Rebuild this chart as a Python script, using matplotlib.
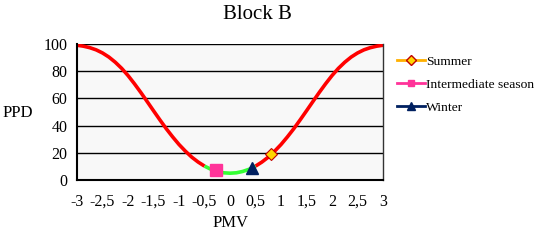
import matplotlib.pyplot as plt

# PMV / PPD curve
pmv = [-3, -2.875, -2.75, -2.625, -2.5, -2.375, -2.25, -2.125, -2, -1.875,
       -1.75, -1.625, -1.5, -1.375, -1.25, -1.125, -1, -0.875, -0.75, -0.625,
       -0.5, -0.375, -0.25, -0.125, 0, 0.125, 0.25, 0.375, 0.5, 0.625, 0.75,
       0.875, 1, 1.125, 1.25, 1.375, 1.5, 1.625, 1.75, 1.875, 2, 2.125, 2.25,
       2.375, 2.5, 2.625, 2.75, 2.875, 3]
ppd = [99.1, 98.4, 97.3, 95.7, 93.4, 90.4, 86.6, 82.1, 76.8, 70.8,
       64.4, 57.7, 50.9, 44.2, 37.7, 31.7, 26.1, 21.2, 16.8, 13.2,
       10.2, 7.9, 6.3, 5.3, 5.0, 5.3, 6.3, 7.9, 10.2, 13.2, 16.8,
       21.2, 26.1, 31.7, 37.7, 44.2, 50.9, 57.7, 64.4, 70.8, 76.8, 82.1, 86.6,
       90.4, 93.4, 95.7, 97.3, 98.4, 99.1]

# seasonal points
summer = (0.8, 19)
intermediate = (-0.27, 7.2)
winter = (0.43, 8.5)

x_ticks = [-3, -2.5, -2, -1.5, -1, -0.5, 0, 0.5, 1, 1.5, 2, 2.5, 3]
x_labels = ["-3", "-2,5", "-2", "-1,5", "-1", "-0,5", "0", "0,5", "1", "1,5", "2", "2,5", "3"]
y_ticks = [0, 20, 40, 60, 80, 100]

plt.rcParams["font.family"] = ["Liberation Serif", "DejaVu Serif"]

fig = plt.figure(figsize=(5.36, 2.45), dpi=100)
ax = fig.add_axes([0.1437, 0.2653, 0.5709, 0.5551])
ax.set_facecolor("#f8f8f8")

for y in y_ticks[1:]:
    ax.axhline(y, color="black", lw=1.0, zorder=1)

red_l = [(x, y) for x, y in zip(pmv, ppd) if x <= -0.5]
red_r = [(x, y) for x, y in zip(pmv, ppd) if x >= 0.5]
green = [(x, y) for x, y in zip(pmv, ppd) if -0.5 <= x <= 0.5]
for seg, col in [(red_l, "#ff0000"), (red_r, "#ff0000"), (green, "#33ff33")]:
    ax.plot([p[0] for p in seg], [p[1] for p in seg], color=col, lw=2.6,
            solid_capstyle="butt", zorder=2)

ax.plot(*summer, marker="D", ms=6, mfc="#ffd700", mec="#c00000", mew=0.8,
        ls="none", zorder=4)
ax.plot(*intermediate, marker="s", ms=9, mfc="#ff3399", mec="#ff3399",
        ls="none", zorder=4)
ax.plot(*winter, marker="^", ms=9, mfc="#002060", mec="#002060",
        ls="none", zorder=4)

# legend proxies with line + marker
h1, = ax.plot([], [], color="#ffb000", lw=2, marker="D", ms=5, mfc="#ffd700", mec="#c00000")
h2, = ax.plot([], [], color="#ff3399", lw=2, marker="s", ms=5)
h3, = ax.plot([], [], color="#002060", lw=2, marker="^", ms=6)
fig.legend([h1, h2, h3], ["Summer", "Intermediate season", "Winter"],
           loc="upper left", bbox_to_anchor=(0.74, 0.775), frameon=False,
           fontsize=9.7, handlelength=2.1, handletextpad=0.1, labelspacing=0.8,
           borderaxespad=0, borderpad=0)

ax.set_xlim(-3, 3)
ax.set_ylim(0, 100)
ax.set_xticks(x_ticks)
ax.set_xticklabels(x_labels)
ax.set_yticks(y_ticks)
ax.tick_params(length=0, labelsize=11.5, pad=10)
ax.tick_params(axis="y", pad=7)
for s in ["left", "bottom"]:
    ax.spines[s].set_linewidth(1.5)
ax.spines["right"].set_linewidth(1.0)
ax.spines["right"].set_color("#333333")
ax.spines["top"].set_visible(False)

ax.set_xlabel("PMV", fontsize=12, labelpad=4)
fig.text(0.033, 0.54, "PPD", fontsize=12, ha="center", va="center")
fig.text(0.48, 0.94, "Block B", fontsize=15, ha="center", va="center")

fig.savefig("out.png", dpi=100)
